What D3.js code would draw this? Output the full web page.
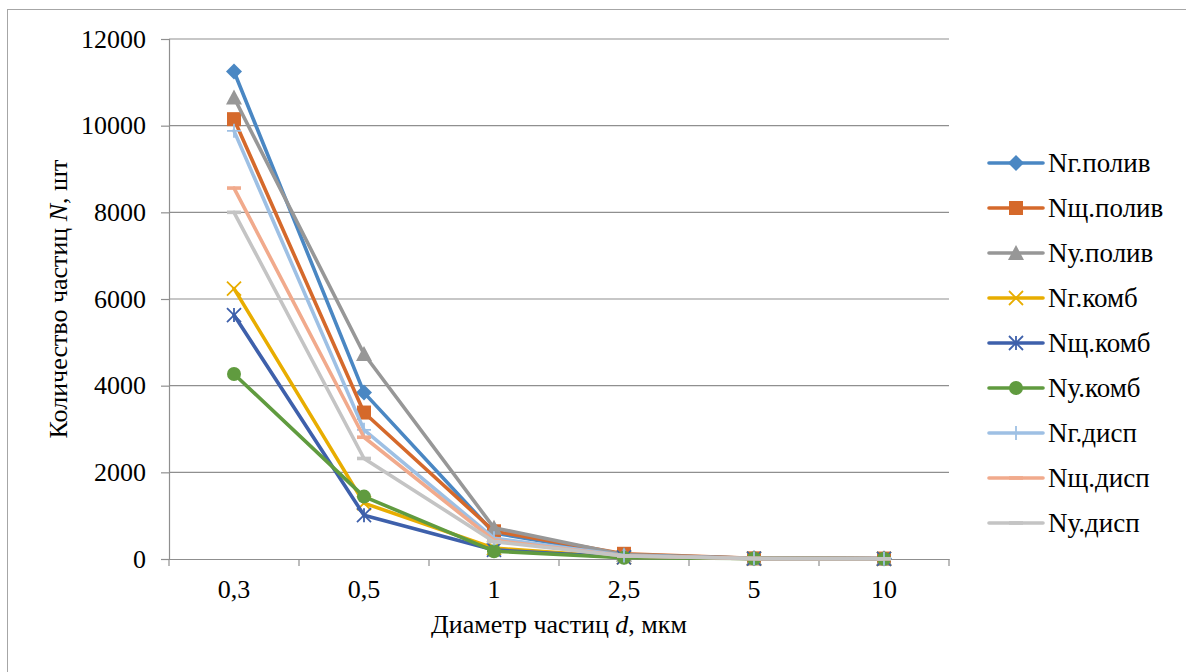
<!DOCTYPE html>
<html>
<head>
<meta charset="utf-8">
<style>
  html, body { margin: 0; padding: 0; background: #fff; }
</style>
</head>
<body>
<svg id="chart" width="1186" height="672" font-family="Liberation Serif">
  <g id="titles" font-size="26">
    <text id="yTitle" transform="translate(67,299) rotate(-90)" text-anchor="middle">Количество частиц <tspan font-style="italic">N</tspan>, шт</text>
    <text id="xTitle" x="559" y="633" text-anchor="middle">Диаметр частиц <tspan font-style="italic">d</tspan>, мкм</text>
  </g>
</svg>
<script src="https://cdn.jsdelivr.net/npm/d3@7"></script>
<script>
// Particle diameter categories, µm
const categories = ["0,3", "0,5", "1", "2,5", "5", "10"];
const yTicks = [0, 2000, 4000, 6000, 8000, 10000, 12000];

// Particle counts per series
const seriesNames = ["Nг.полив", "Nщ.полив", "Nу.полив", "Nг.комб", "Nщ.комб", "Nу.комб", "Nг.дисп", "Nщ.дисп", "Nу.дисп"];
const gPoliv = [11250, 3840, 600, 90, 15, 10];
const shPoliv = [10150, 3380, 640, 120, 15, 10];
const uPoliv = [10650, 4730, 720, 100, 15, 10];
const gKomb = [6240, 1290, 250, 40, 10, 5];
const shKomb = [5630, 1010, 210, 40, 10, 5];
const uKomb = [4270, 1440, 180, 30, 10, 5];
const gDisp = [9880, 2980, 480, 80, 10, 5];
const shDisp = [8560, 2810, 430, 70, 10, 5];
const uDisp = [8000, 2320, 400, 70, 10, 5];
const seriesValues = [gPoliv, shPoliv, uPoliv, gKomb, shKomb, uKomb, gDisp, shDisp, uDisp];

const colors = ["#4a87c3", "#d5692b", "#979797", "#e8ad00", "#3e60ab", "#609b3f", "#9ec0e4", "#f1aa8c", "#c4c4c4"];
const markers = ["diamond", "square", "triangle", "x", "star", "circle", "plus", "dash", "dash"];

const svg = d3.select("#chart");

// outer chart frame
svg.insert("rect", ":first-child").attr("x", 7.5).attr("y", 9.5).attr("width", 1200).attr("height", 700)
  .attr("fill", "none").attr("stroke", "#a6a6a6").attr("stroke-width", 1);

const plot = { left: 169, right: 949, top: 39, bottom: 559 };

const x = d3.scaleBand().domain(categories).range([plot.left, plot.right]).padding(0);
const y = d3.scaleLinear().domain([0, 12000]).range([plot.bottom, plot.top]);

// axis titles sit centred on the plot area
svg.select("#yTitle").attr("transform", `translate(67,${(plot.top + plot.bottom) / 2}) rotate(-90)`);
svg.select("#xTitle").attr("x", (plot.left + plot.right) / 2);

// horizontal gridlines
svg.append("g").selectAll("line").data(yTicks.filter(d => d > 0)).join("line")
  .attr("x1", plot.left).attr("x2", plot.right)
  .attr("y1", d => y(d)).attr("y2", d => y(d))
  .attr("stroke", "#8f8f8f").attr("stroke-width", 1.2);

// y axis
const yAxis = svg.append("g").attr("transform", `translate(${plot.left},0)`)
  .call(d3.axisLeft(y).tickValues(yTicks).tickSize(8).tickPadding(15).tickFormat(d3.format("d")));
yAxis.attr("font-family", "Liberation Serif").attr("font-size", 26);
yAxis.select(".domain").attr("stroke", "#8f8f8f").attr("stroke-width", 1.2);
yAxis.selectAll(".tick line").attr("stroke", "#8f8f8f").attr("stroke-width", 1.2);

// x axis with tick marks on category boundaries
const xAxis = svg.append("g").attr("transform", `translate(0,${plot.bottom})`)
  .call(d3.axisBottom(x).tickSize(0).tickPadding(21));
xAxis.attr("font-family", "Liberation Serif").attr("font-size", 26);
xAxis.select(".domain").attr("stroke", "#8f8f8f").attr("stroke-width", 1.2);
const bounds = categories.map(c => x(c)).concat([x(categories[categories.length - 1]) + x.bandwidth()]);
xAxis.selectAll(".bound").data(bounds).join("line").attr("class", "bound")
  .attr("x1", d => d).attr("x2", d => d).attr("y1", 0).attr("y2", 7)
  .attr("stroke", "#8f8f8f").attr("stroke-width", 1.2);

// marker drawing helper
function drawMarker(g, type, color) {
  const s = 7;
  switch (type) {
    case "diamond":
      g.append("path").attr("d", `M0,${-s - 1}L${s + 1},0L0,${s + 1}L${-s - 1},0Z`).attr("fill", color);
      break;
    case "square":
      g.append("rect").attr("x", -s).attr("y", -s).attr("width", 2 * s).attr("height", 2 * s).attr("fill", color);
      break;
    case "triangle":
      g.append("path").attr("d", `M0,${-s - 1}L${s + 1},${s}L${-s - 1},${s}Z`).attr("fill", color);
      break;
    case "circle":
      g.append("circle").attr("r", s).attr("fill", color);
      break;
    case "x":
      g.append("path").attr("d", `M${-s},${-s}L${s},${s}M${-s},${s}L${s},${-s}`)
        .attr("stroke", color).attr("stroke-width", 1.8).attr("fill", "none");
      break;
    case "star":
      g.append("path").attr("d", `M${-s},${-s}L${s},${s}M${-s},${s}L${s},${-s}M0,${-s}L0,${s}`)
        .attr("stroke", color).attr("stroke-width", 1.8).attr("fill", "none");
      break;
    case "plus":
      g.append("path").attr("d", `M${-s},0L${s},0M0,${-s}L0,${s}`)
        .attr("stroke", color).attr("stroke-width", 1.8).attr("fill", "none");
      break;
    case "dash":
      g.append("rect").attr("x", -s).attr("y", -1.8).attr("width", 2 * s).attr("height", 3.6).attr("fill", color);
      break;
  }
}

const line = d3.line().x((d, i) => x(categories[i]) + x.bandwidth() / 2).y(d => y(d));

// series lines and markers
seriesValues.forEach((vals, si) => {
  const g = svg.append("g");
  g.append("path").datum(vals).attr("d", line)
    .attr("fill", "none").attr("stroke", colors[si]).attr("stroke-width", 3.6)
    .attr("stroke-linejoin", "round").attr("stroke-linecap", "round");
  vals.forEach((v, i) => {
    const m = g.append("g").attr("transform", `translate(${x(categories[i]) + x.bandwidth() / 2},${y(v)})`);
    drawMarker(m, markers[si], colors[si]);
  });
});

// legend
const legend = svg.append("g");
seriesNames.forEach((name, i) => {
  const cy = 163 + i * 45;
  const row = legend.append("g").attr("transform", `translate(0,${cy})`);
  row.append("line").attr("x1", 989).attr("x2", 1043).attr("y1", 0).attr("y2", 0)
    .attr("stroke", colors[i]).attr("stroke-width", 3.6).attr("stroke-linecap", "round");
  const m = row.append("g").attr("transform", "translate(1016,0)");
  drawMarker(m, markers[i], colors[i]);
  row.append("text").attr("x", 1048).attr("y", 0).attr("dy", "0.35em")
    .attr("font-size", 27).text(name);
});

// refresh labels once the serif face is ready
if (document.fonts && document.fonts.ready) {
  document.fonts.ready.then(() => {
    svg.attr("font-family", "Liberation Serif, serif");
    svg.selectAll("text").each(function () { this.getComputedTextLength(); });
  });
}
</script>
</body>
</html>
